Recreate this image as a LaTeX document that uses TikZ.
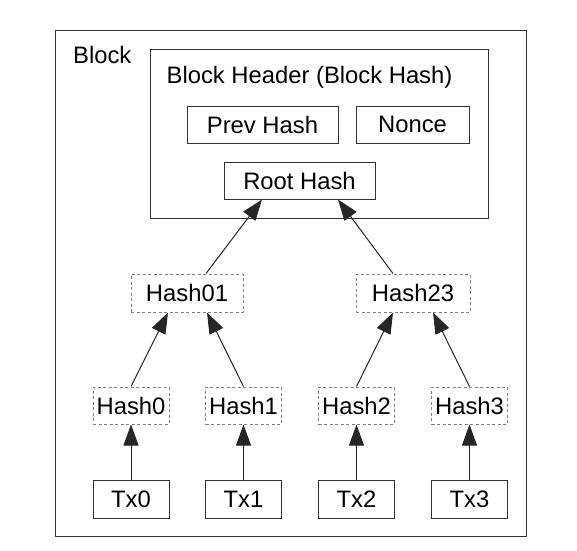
\documentclass[tikz,border=0pt]{standalone}
\usepackage{fontspec}
\setmainfont{Liberation Sans}
\usetikzlibrary{arrows.meta,calc}
\begin{document}
\begin{tikzpicture}[x=1pt,y=-1pt,
  every node/.style={font=\fontsize{23.8}{28}\selectfont, inner sep=0pt},
  solidbox/.style={draw=black!80, line width=1pt, fill=white},
  dashbox/.style={draw=black!50, line width=1pt, dash pattern=on 3pt off 2.5pt},
  arr/.style={draw=black!85, line width=1pt, -{Triangle[length=21pt,width=15pt]}}
]
\useasboundingbox (0,0) rectangle (577,550);
\fill[white] (0,0) rectangle (577,550);
% outer block
\node[solidbox, minimum width=471pt, minimum height=506pt] (block) at (290.5,283) {};
\node[anchor=base west] (blocklbl) at (73,63) {Block};
% header
\node[solidbox, minimum width=338pt, minimum height=169pt] (header) at (319,133.5) {};
\node[anchor=base] (headerlbl) at (309.5,83) {Block Header (Block Hash)};
\node[solidbox, minimum width=151pt, minimum height=37pt] (prev) at (262.5,124.5) {Prev Hash};
\node[solidbox, minimum width=113pt, minimum height=37pt] (nonce) at (412.5,124.5) {Nonce};
\node[solidbox, minimum width=151pt, minimum height=37pt] (root) at (299.5,180.5) {Root Hash};
% level 1
\node[dashbox, minimum width=112pt, minimum height=38pt] (h01) at (187,293) {Hash01};
\node[dashbox, minimum width=114pt, minimum height=38pt] (h23) at (413,293) {Hash23};
% level 2
\node[dashbox, minimum width=76pt, minimum height=37pt] (h0) at (131,405.5) {Hash0};
\node[dashbox, minimum width=76pt, minimum height=37pt] (h1) at (243.5,405.5) {Hash1};
\node[dashbox, minimum width=76pt, minimum height=37pt] (h2) at (356.5,405.5) {Hash2};
\node[dashbox, minimum width=76pt, minimum height=37pt] (h3) at (469.5,405.5) {Hash3};
% transactions
\node[solidbox, minimum width=76pt, minimum height=38pt] (t0) at (131,499) {Tx0};
\node[solidbox, minimum width=76pt, minimum height=38pt] (t1) at (243.5,499) {Tx1};
\node[solidbox, minimum width=76pt, minimum height=38pt] (t2) at (356.5,499) {Tx2};
\node[solidbox, minimum width=76pt, minimum height=38pt] (t3) at (469.5,499) {Tx3};
% arrows
\draw[arr] (t0.north) -- (h0.south);
\draw[arr] (t1.north) -- (h1.south);
\draw[arr] (t2.north) -- (h2.south);
\draw[arr] (t3.north) -- (h3.south);
\draw[arr] (h0.north) -- ($(h01.south)+(-19,0)$);
\draw[arr] (h1.north) -- ($(h01.south)+(20,0)$);
\draw[arr] (h2.north) -- ($(h23.south)+(-20,0)$);
\draw[arr] (h3.north) -- ($(h23.south)+(20,0)$);
\draw[arr] ($(h01.north)+(19,0)$) -- ($(root.south)+(-37.5,0)$);
\draw[arr] ($(h23.north)+(-20,0)$) -- ($(root.south)+(38.5,0)$);
\end{tikzpicture}
\end{document}
